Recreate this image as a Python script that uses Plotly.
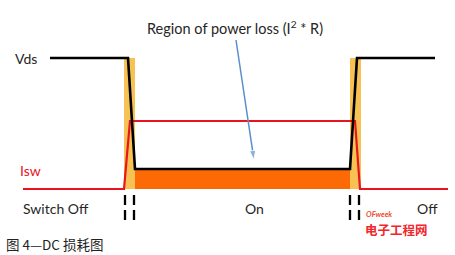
import plotly.graph_objects as go

# Schematic waveform data (x = time units, y = level units)
vds_t = [50, 128, 135, 350, 357, 435]
vds_v = [197, 197, 86, 86, 197, 197]

isw_t = [23, 124, 130, 355, 360, 448]
isw_v = [66, 66, 134, 134, 66, 66]

loss_t = [135, 350]           # orange conduction-loss region
loss_top = 86
loss_bottom = 66

switch_bands = [(124, 135), (350, 361)]   # yellow switching-transition bands
band_top = 197

dash_x = [125, 134, 350, 359]

arrow_x = [236, 254]
arrow_y = [215, 95]

fig = go.Figure()

# yellow transition bands
for (a, b) in switch_bands:
    fig.add_trace(go.Scatter(x=[a, b, b, a, a], y=[loss_bottom, loss_bottom, band_top, band_top, loss_bottom],
                             fill="toself", fillcolor="#f7c154", line=dict(width=0),
                             mode="lines", hoverinfo="skip", showlegend=False))

# orange loss region
fig.add_trace(go.Scatter(x=[loss_t[0], loss_t[1], loss_t[1], loss_t[0], loss_t[0]],
                         y=[loss_bottom, loss_bottom, loss_top, loss_top, loss_bottom],
                         fill="toself", fillcolor="#fb6a04", line=dict(width=0),
                         mode="lines", hoverinfo="skip", showlegend=False))

# Isw
fig.add_trace(go.Scatter(x=isw_t, y=isw_v, mode="lines",
                         line=dict(color="#e8141e", width=2.2), showlegend=False))
# Vds
fig.add_trace(go.Scatter(x=vds_t, y=vds_v, mode="lines",
                         line=dict(color="#000000", width=2.6), showlegend=False))

# dashed markers
for dx in dash_x:
    fig.add_trace(go.Scatter(x=[dx, dx], y=[60, 35], mode="lines",
                             line=dict(color="#000000", width=2.3, dash="10px,5px"),
                             showlegend=False))

# blue arrow
fig.add_trace(go.Scatter(x=arrow_x, y=arrow_y, mode="lines+markers",
                         line=dict(color="#5b8fc9", width=1.5),
                         marker=dict(symbol=["line-ns", "arrow"], size=[0, 10],
                                     angleref="previous", color="#5b8fc9"),
                         hoverinfo="skip", showlegend=False))

font = "Lato, Open Sans, sans-serif"
def txt(x, y, s, color="#262626", size=14, xanchor="center", family=font):
    fig.add_annotation(x=x, y=y, text=s, showarrow=False, xanchor=xanchor,
                       yanchor="middle", font=dict(family=family, size=size, color=color))

txt(235, 228, "Region of power loss (I<sup>2</sup> * R)", size=14.5)
txt(13, 197, "Vds", xanchor="left")
txt(18, 85, "Isw", color="#e8141e", xanchor="left")
txt(56, 47, "Switch Off")
txt(254, 47, "On")
txt(427, 47, "Off")
txt(4, 11, "图 4—DC 损耗图", color="#222222", size=13.5, xanchor="left",
    family="Noto Sans CJK SC")
txt(396, 26, "<b>电子工程网</b>", color="#f0262d", size=12.5, family="Noto Sans CJK SC")
txt(379, 41, "<i><b>OFweek</b></i>", color="#f04a2a", size=7.5)

fig.update_xaxes(range=[0, 455], visible=False, fixedrange=True)
fig.update_yaxes(range=[0, 255], visible=False, fixedrange=True)
fig.update_layout(width=455, height=255, margin=dict(l=0, r=0, t=0, b=0),
                  plot_bgcolor="white", paper_bgcolor="white")

fig.write_html("out.html")
